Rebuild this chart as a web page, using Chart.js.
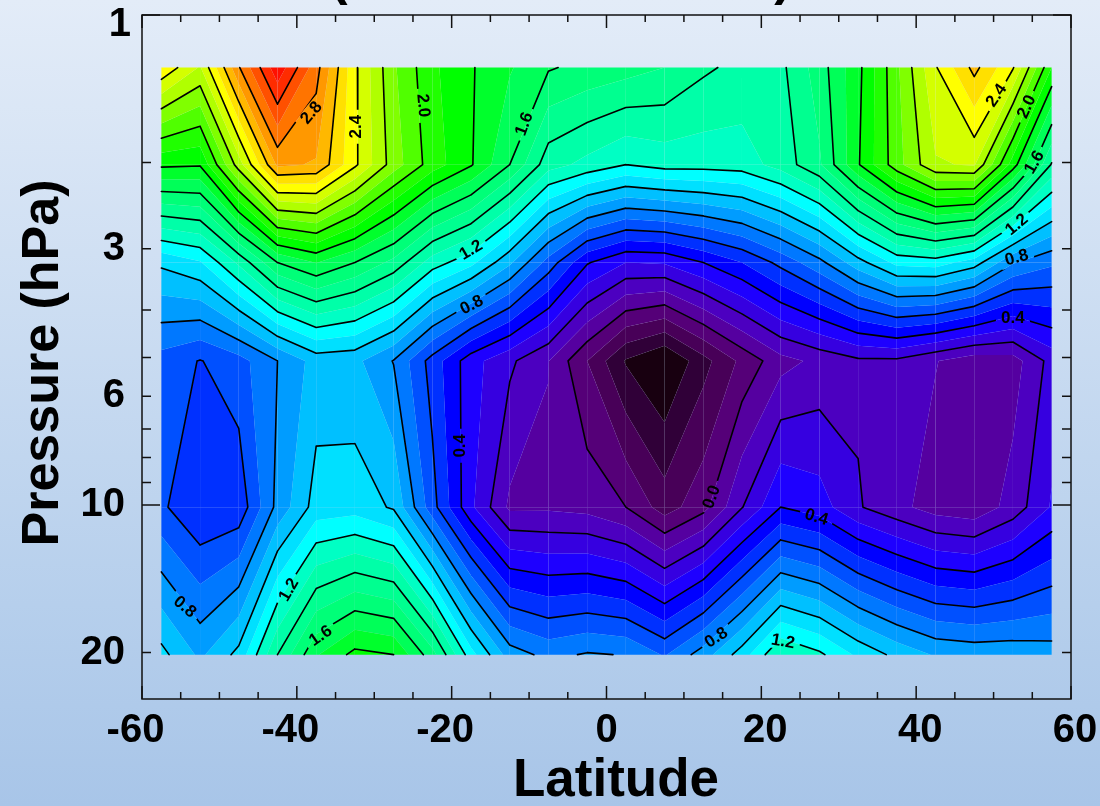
<!DOCTYPE html>
<html>
<head>
<meta charset="utf-8">
<title>Latitude pressure contour</title>
<script src="https://cdn.jsdelivr.net/npm/chart.js@4"></script>
<style>
  html, body { margin: 0; padding: 0; width: 1100px; height: 806px; overflow: hidden; }
  body { background: linear-gradient(180deg, #e3ecf8 0%, #b6cfec 75%, #a8c5e8 100%); }
  canvas { display: block; }
</style>
</head>
<body>
<canvas id="grafico" width="1100" height="806"></canvas>
<script>
// grid of the field: one list per pressure level, one value per latitude
const latitudes = [-57.5, -52.5, -47.5, -42.5, -37.5, -32.5, -27.5, -22.5, -17.5, -12.5, -7.5, -2.5,
  2.5, 7.5, 12.5, 17.5, 22.5, 27.5, 32.5, 37.5, 42.5, 47.5, 52.5, 57.5];
const pressures = [1.28, 2.02, 3.2, 5.08, 10.1, 20.2];
const valuesAt1p3 = [2.48, 2.29, 2.79, 3.17, 2.84, 2.42, 2.115, 1.92, 1.81, 1.71, 1.61, 1.57,
  1.54, 1.5, 1.418, 1.37, 1.375, 1.55, 1.77, 2.08, 2.39, 2.63, 2.41, 1.9];
const valuesAt2 = [1.82, 1.81, 2.25, 2.72, 2.69, 2.42, 2.15, 1.95, 1.81, 1.6, 1.34, 1.27,
  1.2, 1.24, 1.24, 1.25, 1.34, 1.485, 1.79, 2.06, 2.29, 2.31, 1.85, 1.39];
const valuesAt3p2 = [1.02, 1.09, 1.32, 1.6, 1.705, 1.6, 1.47, 1.25, 1.13, 0.92, 0.66, 0.41,
  0.3, 0.31, 0.4, 0.5, 0.63, 0.77, 0.96, 1.13, 1.15, 1.05, 0.81, 0.72];
const valuesAt5 = [0.66, 0.595, 0.66, 0.8, 0.94, 0.926, 0.795, 0.557, 0.34, 0.22, 0.103, -0.1,
  -0.31, -0.41, -0.236, -0.075, 0.064, 0.126, 0.18, 0.18, 0.105, 0.04, 0.055, 0.237];
const valuesAt10 = [0.62, 0.503, 0.53, 0.83, 1.043, 1.057, 0.987, 0.64, 0.32, 0.08, 0.083, 0.066,
  0, -0.148, -0.035, 0.195, 0.4, 0.348, 0.21, 0.13, 0.055, 0.03, 0.14, 0.31];
const valuesAt20 = [1.03, 0.88, 1.03, 1.4, 1.69, 1.83, 1.8, 1.54, 1.14, 0.85, 0.77, 0.81,
  0.795, 0.69, 0.85, 1.05, 1.3, 1.22, 1.08, 0.97, 0.89, 0.87, 0.87, 0.85];
const grid = [valuesAt1p3, valuesAt2, valuesAt3p2, valuesAt5, valuesAt10, valuesAt20];

// contours and filled bands
const contourLevels = [0, 0.2, 0.4, 0.6, 0.8, 1, 1.2, 1.4, 1.6, 1.8, 2, 2.2, 2.4, 2.6, 2.8, 3];
const bandEdges = [-1, -0.3, -0.2, -0.1, 0, 0.1, 0.2, 0.3, 0.4, 0.5, 0.6, 0.7, 0.8, 0.9, 1, 1.1, 1.2,
  1.3, 1.4, 1.5, 1.6, 1.7, 1.8, 1.9, 2, 2.1, 2.2, 2.3, 2.4, 2.5, 2.6, 2.7, 2.8, 2.9, 3, 3.1, 9];
const bandColors = ['#180010', '#300038', '#480058', '#550078', '#5500a0', '#4c00c0', '#3600e0', '#1e00ff',
  '#0000ff', '#0030ff', '#0050ff', '#0078ff', '#009cff', '#00c0ff', '#00e0ff', '#00ffff',
  '#00ffc4', '#00ffa8', '#00ff90', '#00ff78', '#00ff58', '#00ff2c', '#00ff00', '#20ff00',
  '#50ff00', '#80ff00', '#b0ff00', '#d4ff00', '#ffff00', '#ffe000', '#ffb800', '#ff9800',
  '#ff7400', '#ff5000', '#ff2c00', '#ff1000'];

// inline contour labels
const labelTexts = ['2.8', '2.4', '2.0', '1.6', '1.2', '0.8', '0.4', '0.8', '1.2', '1.6',
  '0.0', '0.4', '0.8', '1.2', '0.4', '0.8', '1.2', '1.6', '2.0', '2.4'];
const labelLats = [-38.1, -32.3, -23.7, -10.6, -17.5, -17.4, -18.9, -54.5, -41, -36.9,
  13.6, 27.1, 14.2, 22.8, 52.5, 53, 53, 55.3, 54.3, 50.4];
const labelPressures = [1.585, 1.69, 1.53, 1.67, 3.02, 3.91, 7.57, 16.15, 14.9, 18.5,
  9.63, 10.6, 18.66, 19, 4.15, 3.13, 2.68, 2, 1.54, 1.46];
const labelAngles = [-50, -90, 85, -70, -30, -27, -90, 40, -60, -35,
  -70, 17, -33, 10, 0, -15, -40, -60, -65, -55];

// axis ticks
const pressureTicks = [1, 2, 3, 4, 5, 6, 7, 8, 9, 10, 20];
const pressureLabels = [3, 6, 10, 20];
const pressureLongTicks = [1, 10];
const latitudeLabels = [-60, -40, -20, 0, 20, 40, 60];

const cellNodes = (i, j) => [[j, i], [j, i + 1], [j + 1, i + 1], [j + 1, i]];

function contourPoints(level) {
  const pts = [];
  const logP = pressures.map(Math.log10);
  for (let j = 0; j < pressures.length - 1; j++) {
    for (let i = 0; i < latitudes.length - 1; i++) {
      const nodes = cellNodes(i, j);
      const cuts = [];
      for (let k = 0; k < 4; k++) {
        const a = nodes[k], b = nodes[(k + 1) % 4];
        const va = grid[a[0]][a[1]], vb = grid[b[0]][b[1]];
        if ((va < level) !== (vb < level)) {
          const t = (level - va) / (vb - va);
          cuts.push({
            x: latitudes[a[1]] + t * (latitudes[b[1]] - latitudes[a[1]]),
            y: Math.pow(10, logP[a[0]] + t * (logP[b[0]] - logP[a[0]]))
          });
        }
      }
      if (cuts.length === 2) {
        pts.push(cuts[0], cuts[1], { x: NaN, y: NaN });
      } else if (cuts.length === 4) {
        const mid = nodes.reduce((s, n) => s + grid[n[0]][n[1]], 0) / 4;
        const first = grid[nodes[0][0]][nodes[0][1]];
        if ((mid < level) === (first < level)) {
          pts.push(cuts[0], cuts[1], { x: NaN, y: NaN }, cuts[2], cuts[3], { x: NaN, y: NaN });
        } else {
          pts.push(cuts[3], cuts[0], { x: NaN, y: NaN }, cuts[1], cuts[2], { x: NaN, y: NaN });
        }
      }
    }
  }
  return pts;
}

// keep the part of a polygon on one side of a value
function clipBand(poly, level, above) {
  const out = [];
  for (let k = 0; k < poly.length; k++) {
    const a = poly[k], b = poly[(k + 1) % poly.length];
    const ina = above ? a.v >= level : a.v <= level;
    const inb = above ? b.v >= level : b.v <= level;
    if (ina) out.push(a);
    if (ina !== inb) {
      const t = (level - a.v) / (b.v - a.v);
      out.push({ x: a.x + t * (b.x - a.x), y: a.y + t * (b.y - a.y), v: level });
    }
  }
  return out;
}

const bandsPlugin = {
  id: 'bands',
  beforeDatasetsDraw(chart) {
    const { ctx, scales: { x, y } } = chart;
    for (let j = 0; j < pressures.length - 1; j++) {
      for (let i = 0; i < latitudes.length - 1; i++) {
        const quad = cellNodes(i, j).map(n => ({
          x: x.getPixelForValue(latitudes[n[1]]),
          y: y.getPixelForValue(pressures[n[0]]),
          v: grid[n[0]][n[1]]
        }));
        bandColors.forEach((color, b) => {
          let poly = clipBand(quad, bandEdges[b], true);
          if (poly.length) poly = clipBand(poly, bandEdges[b + 1], false);
          if (poly.length < 3) return;
          ctx.beginPath();
          poly.forEach((p, k) => k ? ctx.lineTo(p.x, p.y) : ctx.moveTo(p.x, p.y));
          ctx.closePath();
          ctx.fillStyle = color;
          ctx.fill();
        });
      }
    }
    // leave a gap in the contour lines under each label
    ctx.save();
    ctx.beginPath();
    ctx.rect(0, 0, chart.width, chart.height);
    labelTexts.forEach((t, n) => {
      const cx = x.getPixelForValue(labelLats[n]), cy = y.getPixelForValue(labelPressures[n]);
      const a = labelAngles[n] * Math.PI / 180, w = 17, h = 8;
      const cos = Math.cos(a), sin = Math.sin(a);
      ctx.moveTo(cx - w * cos + h * sin, cy - w * sin - h * cos);
      ctx.lineTo(cx + w * cos + h * sin, cy + w * sin - h * cos);
      ctx.lineTo(cx + w * cos - h * sin, cy + w * sin + h * cos);
      ctx.lineTo(cx - w * cos - h * sin, cy - w * sin + h * cos);
      ctx.closePath();
    });
    ctx.clip('evenodd');
  },
  afterDatasetsDraw(chart) {
    const { ctx, chartArea: area, scales: { x, y } } = chart;
    ctx.restore();

    ctx.fillStyle = '#000';
    ctx.textAlign = 'center';
    ctx.textBaseline = 'middle';
    ctx.font = 'bold 17px "Liberation Sans"';
    labelTexts.forEach((t, n) => {
      ctx.save();
      ctx.translate(x.getPixelForValue(labelLats[n]), y.getPixelForValue(labelPressures[n]));
      ctx.rotate(labelAngles[n] * Math.PI / 180);
      ctx.fillText(t, 0, 0);
      ctx.restore();
    });

    // frame and inward ticks on all four sides
    ctx.strokeStyle = '#111';
    ctx.lineWidth = 1.5;
    ctx.strokeRect(area.left, area.top, area.right - area.left, area.bottom - area.top);
    ctx.beginPath();
    x.ticks.forEach(t => {
      const px = x.getPixelForValue(t.value);
      const len = latitudeLabels.includes(t.value) ? 13 : 7;
      ctx.moveTo(px, area.bottom); ctx.lineTo(px, area.bottom - len);
      ctx.moveTo(px, area.top); ctx.lineTo(px, area.top + len);
    });
    y.ticks.forEach(t => {
      const py = y.getPixelForValue(t.value);
      const len = pressureLongTicks.includes(t.value) ? 18 : 9;
      ctx.moveTo(area.left, py); ctx.lineTo(area.left + len, py);
      ctx.moveTo(area.right, py); ctx.lineTo(area.right - len, py);
    });
    ctx.stroke();

    // titles and the labels that sit off their tick
    ctx.font = 'bold 52px "Liberation Sans"';
    ctx.fillStyle = '#000';
    ctx.save();
    ctx.translate(44, 363);
    ctx.rotate(-Math.PI / 2);
    ctx.fillText('Pressure (hPa)', 0, 0);
    ctx.restore();
    ctx.fillText('(', 339, -20);
    ctx.fillText(')', 783, -20);
    ctx.font = 'bold 53px "Liberation Sans"';
    ctx.fillText('Latitude', 616, 781);

    ctx.font = 'bold 40px "Liberation Sans"';
    ctx.textBaseline = 'alphabetic';
    latitudeLabels.forEach(v => {
      const shift = v < 0 ? -6.5 : v > 0 ? 4 : 0;
      ctx.fillText(String(v), x.getPixelForValue(v) + shift, 741.5);
    });
    ctx.textAlign = 'right';
    ctx.fillText('1', 131, 36);
  }
};

new Chart(document.getElementById('grafico').getContext('2d'), {
  type: 'scatter',
  data: {
    datasets: contourLevels.map(level => ({
      label: level.toFixed(1),
      data: contourPoints(level),
      showLine: true,
      spanGaps: false,
      borderColor: '#000',
      borderWidth: 1.6,
      borderCapStyle: 'round',
      pointRadius: 0,
      pointHoverRadius: 0
    }))
  },
  options: {
    responsive: false,
    animation: false,
    events: [],
    layout: { padding: { left: 0, right: 29, top: 15, bottom: 0 } },
    plugins: { legend: { display: false }, title: { display: false }, tooltip: { enabled: false } },
    scales: {
      x: {
        type: 'linear',
        min: -60,
        max: 60,
        afterFit: s => { s.height = 107; s.paddingLeft = 0; s.paddingRight = 0; },
        grid: { display: false },
        border: { display: false },
        ticks: {
          stepSize: 5,
          autoSkip: false,
          maxRotation: 0,
          minRotation: 0,
          callback: () => ''
        }
      },
      y: {
        type: 'logarithmic',
        reverse: true,
        min: 1,
        max: 24.88,
        afterFit: s => { s.width = 142; s.paddingTop = 0; s.paddingBottom = 0; },
        afterBuildTicks: s => { s.ticks = pressureTicks.map(v => ({ value: v })); },
        grid: { display: false },
        border: { display: false },
        ticks: {
          autoSkip: false,
          padding: 9,
          color: '#000',
          font: { family: '"Liberation Sans"', weight: 'bold', size: 40 },
          callback: v => pressureLabels.includes(v) ? String(v) : ''
        }
      }
    }
  },
  plugins: [bandsPlugin]
});
</script>
</body>
</html>
